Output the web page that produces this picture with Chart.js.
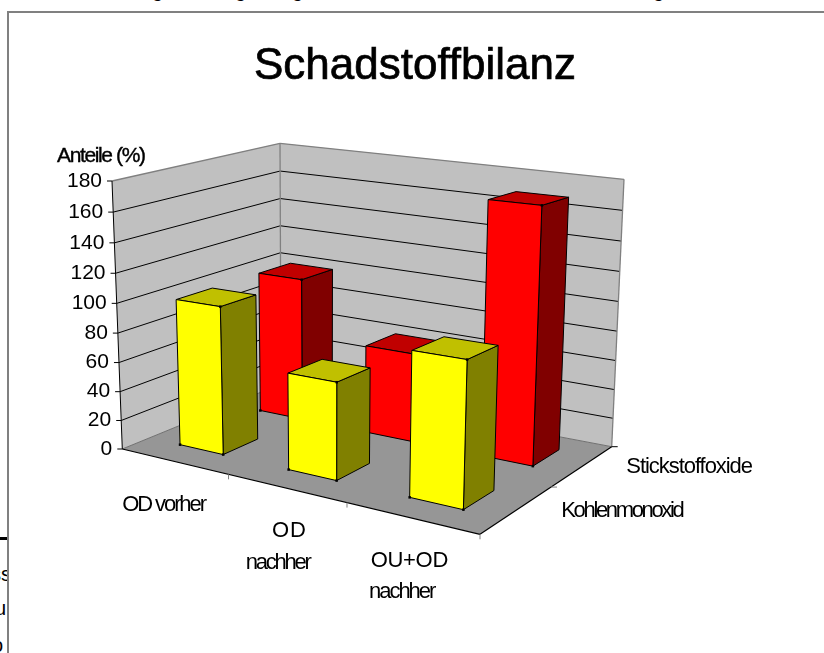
<!DOCTYPE html>
<html><head><meta charset="utf-8">
<script src="https://cdn.jsdelivr.net/npm/chart.js@4/dist/chart.umd.min.js"></script>
<style>
html,body{margin:0;padding:0;background:#fff;overflow:hidden;width:824px;height:653px}
#frame{position:absolute;left:7px;top:11px;width:817px;height:642px;border-left:2px solid #808080;border-top:2px solid #808080;box-sizing:border-box}
canvas{position:absolute;left:0;top:0}
.clip{position:absolute;overflow:hidden;font:20px "Liberation Sans",Arial,sans-serif;color:#000}
.clip span{position:absolute;line-height:20px;white-space:nowrap}
</style></head><body>
<div class="clip" style="left:0;top:0;width:824px;height:3px">
<span style="left:152px;top:-20px">g</span><span style="left:235px;top:-20px">g</span><span style="left:292px;top:-20px">g</span><span style="left:653px;top:-20px">g</span>
</div>
<div class="clip" style="left:0;top:520px;width:7px;height:133px">
<div style="position:absolute;left:0;top:17px;width:8px;height:3px;background:#000"></div>
<span style="left:-9px;top:44px">ss</span><span style="left:-5px;top:78px">u</span><span style="left:-8px;top:115px">o</span>
</div>
<div id="frame"></div>
<canvas id="c" width="824" height="653"></canvas>
<script>
const categories = [['OD vorher'], ['OD', 'nachher'], ['OU+OD', 'nachher']];
const seriesNames = ['Kohlenmonoxid', 'Stickstoffoxide'];
const kohlenmonoxid = [100, 64, 92];
const stickstoffoxide = [100, 61, 169];
const yTickStep = 20, yMax = 180;
const titleText = 'Schadstoffbilanz';
const yAxisTitle = 'Anteile (%)';

// 3D view box (chart chrome, not data)
const floorQuad = [[122.3,449],[480,534.3],[611.7,446.7],[281,384]];   // front-left, front-right, back-right, back-left
const roofFL=[112,181], roofBL=[280,143.3], roofBR=[624,179.3];
const persp = 1.05, barFracU = 0.41, barFracV = 0.42, shiftU = 0.001, shiftV = 0.01;
const faces = [
 {front:'#FFFF00', top:'#C0C000', side:'#808000'},
 {front:'#FF0000', top:'#C00000', side:'#800000'}
];
const P=(function(){
  const [[x0,y0],[x1,y1],[x2,y2],[x3,y3]] = floorQuad;
  const dx1=x1-x2,dx2=x3-x2,sx=x0-x1+x2-x3,dy1=y1-y2,dy2=y3-y2,sy=y0-y1+y2-y3;
  const den=dx1*dy2-dx2*dy1, g=(sx*dy2-dx2*sy)/den, h=(dx1*sy-sx*dy1)/den;
  const a=x1-x0+g*x1,b=x3-x0+h*x3,d=y1-y0+g*y1,e=y3-y0+h*y3;
  const k=1/persp-1,cx=roofFL[0]*(1+k)-x0,cy=roofFL[1]*(1+k)-y0;
  const raw=(u,v,z)=>{const w=g*u+h*v+k*z+1;return [(a*u+b*v+cx*z+x0)/w,(d*u+e*v+cy*z+y0)/w];};
  const bl=raw(0,1,1),br=raw(1,1,1);
  const rBL=[roofBL[0]-bl[0],roofBL[1]-bl[1]],rBR=[roofBR[0]-br[0],roofBR[1]-br[1]];
  return (u,v,z)=>{const p=raw(u,v,z);return [p[0]+z*v*((1-u)*rBL[0]+u*rBR[0]),p[1]+z*v*((1-u)*rBL[1]+u*rBR[1])];};
})();
function poly(ctx,pts,fill,stroke,lw){
  ctx.beginPath();pts.forEach((p,i)=>i?ctx.lineTo(p[0],p[1]):ctx.moveTo(p[0],p[1]));ctx.closePath();
  if(fill){ctx.fillStyle=fill;ctx.fill();}
  if(stroke){ctx.strokeStyle=stroke;ctx.lineWidth=lw||1;ctx.stroke();}
}
function seg(ctx,a,b,c,lw){ctx.beginPath();ctx.moveTo(a[0],a[1]);ctx.lineTo(b[0],b[1]);ctx.strokeStyle=c;ctx.lineWidth=lw||1;ctx.stroke();}
function frac(y,val){return (y.bottom-y.getPixelForValue(val))/(y.bottom-y.top);}
function fitText(ctx,t,left,right,base){
  ctx.letterSpacing='0px';
  const natural=ctx.measureText(t).width;
  ctx.letterSpacing=((right-left-natural)/(t.length-1)).toFixed(2)+'px';
  ctx.fillText(t,left-1,base);
}
// [left, right, baseline] for each label line
const catLabelBoxes=[[[123.3,208,510.7]],[[273,307,536.7],[246.7,312.7,568.7]],[[371.7,449.3,567.3],[370,437.3,598]]];
const seriesLabelBoxes=[[562.3,685.7,516.7],[627.3,754,472.7]];

const view3d={
 id:'view3d',
 beforeDraw(chart){
   const y=chart.scales.y;
   y.getLabelItems().forEach((it,i)=>{
     const val=y.ticks[i].value,h=frac(y,val),p=P(0,0,h);
     it.options.translation=[p[0]-10,p[1]];
   });
 },
 beforeDatasetsDraw(chart){
   const ctx=chart.ctx,y=chart.scales.y;ctx.save();
   const wallL=[P(0,0,0),P(0,1,0),P(0,1,1),P(0,0,1)],wallB=[P(0,1,0),P(1,1,0),P(1,1,1),P(0,1,1)];
   poly(ctx,wallL,'#C0C0C0');poly(ctx,wallB,'#C0C0C0');
   poly(ctx,[P(0,0,0),P(1,0,0),P(1,1,0),P(0,1,0)],'#969696');
   y.ticks.forEach(t=>{
     const h=frac(y,t.value);
     if(t.value>0&&t.value<yMax){seg(ctx,P(0,0,h),P(0,1,h),'#000');seg(ctx,P(0,1,h),P(1,1,h),'#000');}
     const p=P(0,0,h);seg(ctx,p,[p[0]-5,p[1]],'#000');
   });
   seg(ctx,P(0,0,1),P(0,1,1),'#808080',1.3);seg(ctx,P(0,1,1),P(1,1,1),'#808080',1.3);
   seg(ctx,P(0,1,0),P(0,1,1),'#808080',1.3);seg(ctx,P(1,1,0),P(1,1,1),'#808080',1.3);
   seg(ctx,P(0,0,0),P(0,1,0),'#707070');seg(ctx,P(0,1,0),P(1,1,0),'#707070');
   seg(ctx,P(0,0,0),P(0,0,1),'#000');
   seg(ctx,P(0,0,0),P(1,0,0),'#000',1.2);seg(ctx,P(1,0,0),P(1,1,0),'#000',1.2);
   [1/3,2/3,1].forEach(u=>{const p=P(u,0,0);seg(ctx,p,[p[0],p[1]+5],'#808080');});
   [.5,1].forEach(v=>{const p=P(1,v,0);seg(ctx,p,[p[0]+6,p[1]],v==1?'#000':'#808080');});
   ctx.restore();
 },
 beforeDatasetDraw(chart,args){
   const ctx=chart.ctx,x=chart.scales.x,y=chart.scales.y,s=args.index,col=faces[s];
   const n=chart.data.labels.length,m=chart.data.datasets.length;
   ctx.save();
   chart.data.datasets[s].data.forEach((val,i)=>{
     const uc=(x.getPixelForValue(i)-x.left)/(x.right-x.left)+shiftU,vc=(s+.5)/m+shiftV,h=frac(y,val);
     const du=barFracU/n/2,dv=barFracV/m/2,u0=uc-du,u1=uc+du,v0=vc-dv,v1=vc+dv;
     poly(ctx,[P(u1,v0,0),P(u1,v1,0),P(u1,v1,h),P(u1,v0,h)],col.side,'#000');
     poly(ctx,[P(u0,v0,h),P(u1,v0,h),P(u1,v1,h),P(u0,v1,h)],col.top,'#000');
     poly(ctx,[P(u0,v0,0),P(u1,v0,0),P(u1,v0,h),P(u0,v0,h)],col.front,'#000');
     ctx.fillStyle='#000';
     [P(u0,v0,0),P(u1,v0,0),P(u1,v0,h)].forEach(p=>ctx.fillRect(p[0]-1.25,p[1]-1.25,2.5,2.5));
   });
   ctx.restore();
   return false;
 },
 afterDraw(chart){
   const ctx=chart.ctx;ctx.save();
   ctx.fillStyle='#000';ctx.textBaseline='alphabetic';ctx.textAlign='left';
   ctx.font='22px "Liberation Sans"';
   chart.data.labels.forEach((lines,i)=>lines.forEach((t,j)=>{const b=catLabelBoxes[i][j];fitText(ctx,t,b[0],b[1],b[2]);}));
   seriesNames.forEach((t,i)=>{const b=seriesLabelBoxes[i];fitText(ctx,t,b[0],b[1],b[2]);});
   ctx.strokeStyle='#000';ctx.lineWidth=.4;
   ctx.font='21px "Liberation Sans"';
   fitText(ctx,yAxisTitle,58,147,162.3);ctx.strokeText(yAxisTitle,57,162.3);
   // title weight
   const tb=chart.titleBlock;
   ctx.letterSpacing='0px';ctx.font='44px "Liberation Sans"';ctx.textAlign='center';ctx.textBaseline='middle';ctx.lineWidth=.7;
   ctx.strokeText(titleText,(tb.left+tb.right)/2,tb.top+30+26.4);
   ctx.restore();
 }
};
new Chart(document.getElementById('c'),{
 type:'bar',
 data:{labels:categories,datasets:[
   {label:seriesNames[0],data:kohlenmonoxid,backgroundColor:faces[0].front,borderColor:'#000'},
   {label:seriesNames[1],data:stickstoffoxide,backgroundColor:faces[1].front,borderColor:'#000'}
 ]},
 options:{
  responsive:false,animation:false,events:[],
  layout:{padding:{top:10,left:6,right:0,bottom:204}},
  plugins:{
   legend:{display:false},tooltip:{enabled:false},
   title:{display:true,text:titleText,color:'#000',font:{family:'"Liberation Sans"',size:44,weight:'normal',lineHeight:1.2},padding:{top:30,bottom:88.2}}
  },
  scales:{
   x:{display:false,grid:{display:false}},
   y:{min:0,max:yMax,grid:{display:false},border:{display:false},afterFit(s){s.width=120;},
      ticks:{stepSize:yTickStep,color:'#000',font:{family:'"Liberation Sans"',size:21}}}
  }
 },
 plugins:[view3d]
});
</script>
</body></html>
